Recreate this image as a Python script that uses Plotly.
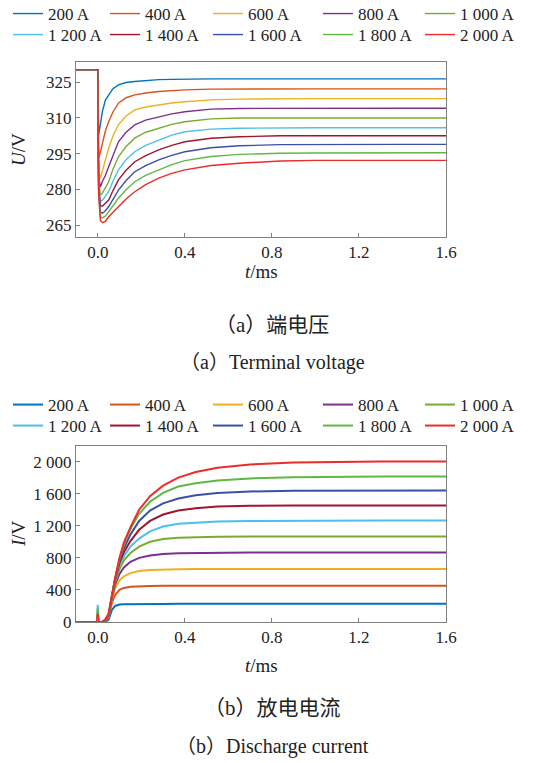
import plotly.graph_objects as go

# ---------------- data ----------------
series_names = ["200 A", "400 A", "600 A", "800 A", "1 000 A",
                "1 200 A", "1 400 A", "1 600 A", "1 800 A", "2 000 A"]
colors = ["#0072BD", "#D95319", "#EDB120", "#7E2F8E", "#77AC30",
          "#4DBEEE", "#A2142F", "#3A4FA8", "#5DB845", "#EE2A2A"]

# terminal voltage (V) vs time (ms)
t_u = [-0.1, 0.0, 0.004, 0.012, 0.022, 0.035, 0.05, 0.07, 0.095, 0.13, 0.17,
       0.22, 0.28, 0.34, 0.4, 0.52, 0.65, 0.84, 1.0, 1.2, 1.4, 1.6]
u_200 = [330.3, 330.3, 302.9, 308.0, 313.0, 317.5, 319.8, 322.3, 323.9, 324.9, 325.3,
         325.8, 326.1, 326.2, 326.3, 326.4, 326.4, 326.4, 326.4, 326.4, 326.4, 326.4]
u_400 = [330.3, 330.3, 293.3, 295.5, 299.5, 304.5, 308.4, 312.5, 316.2, 318.5, 319.7,
         320.5, 321.1, 321.5, 321.8, 322.1, 322.2, 322.2, 322.2, 322.2, 322.2, 322.2]
u_600 = [330.3, 330.3, 288.0, 284.7, 288.0, 292.5, 297.3, 302.5, 307.1, 310.8, 313.4,
         314.6, 315.5, 316.3, 316.8, 317.6, 317.9, 318.1, 318.1, 318.1, 318.1, 318.1]
u_800 = [330.3, 330.3, 285.0, 281.0, 283.5, 285.8, 289.5, 294.5, 300.0, 304.0, 307.1,
         309.1, 310.5, 311.7, 312.6, 313.7, 314.0, 314.1, 314.1, 314.1, 314.1, 314.1]
u_1000 = [330.3, 330.3, 283.0, 277.5, 278.5, 281.0, 283.2, 288.5, 293.7, 298.0, 301.5,
          304.0, 305.7, 307.3, 308.4, 309.6, 310.0, 310.0, 310.0, 310.0, 310.0, 310.0]
u_1200 = [330.3, 330.3, 282.0, 275.0, 275.5, 277.0, 279.0, 283.5, 288.2, 292.5, 295.8,
          298.5, 300.8, 302.8, 304.2, 305.3, 305.7, 305.9, 305.9, 305.9, 305.9, 305.9]
u_1400 = [330.3, 330.3, 281.0, 273.0, 273.0, 274.0, 275.5, 279.5, 284.0, 288.0, 291.6,
          294.2, 296.6, 298.5, 300.0, 301.5, 302.1, 302.5, 302.5, 302.5, 302.5, 302.5]
u_1600 = [330.3, 330.3, 280.0, 270.5, 270.0, 271.0, 272.7, 276.0, 279.7, 283.7, 287.4,
          290.0, 292.4, 294.3, 295.8, 297.5, 298.3, 298.8, 298.9, 298.9, 298.9, 298.9]
u_1800 = [330.3, 330.3, 279.0, 268.5, 268.0, 268.8, 270.6, 273.3, 276.3, 279.8, 283.2,
          285.9, 288.2, 290.4, 292.1, 293.8, 294.7, 295.2, 295.3, 295.4, 295.4, 295.4]
u_2000 = [330.3, 330.3, 278.0, 267.0, 266.0, 266.5, 268.5, 270.5, 272.7, 276.0, 279.0,
          282.0, 284.7, 286.7, 288.2, 290.0, 291.0, 291.9, 292.2, 292.2, 292.2, 292.2]
voltages = [u_200, u_400, u_600, u_800, u_1000, u_1200, u_1400, u_1600, u_1800, u_2000]

# discharge current (A) vs time (ms)
t_i = [-0.1, -0.004, 0.0, 0.004, 0.02, 0.035, 0.05, 0.065, 0.08, 0.1, 0.12, 0.15,
       0.19, 0.24, 0.3, 0.37, 0.45, 0.55, 0.7, 0.9, 1.1, 1.3, 1.6]
i_200 = [0, 0, 0, 0, 0, 0, 30, 150, 200, 218, 222, 224,
         225, 226, 226, 227, 227, 228, 228, 228, 228, 228, 228]
i_400 = [0, 0, 0, 0, 0, 10, 60, 240, 340, 400, 425, 440,
         447, 450, 452, 453, 453, 453, 453, 453, 453, 453, 453]
i_600 = [0, 0, 0, 0, 0, 15, 70, 280, 420, 520, 570, 610,
         635, 648, 655, 658, 660, 661, 661, 661, 661, 661, 661]
i_800 = [0, 0, 0, 0, 0, 20, 80, 300, 470, 600, 680, 750,
         800, 830, 848, 858, 862, 865, 867, 868, 868, 868, 868]
i_1000 = [0, 0, 0, 0, 0, 20, 85, 310, 500, 660, 770, 860,
          940, 1000, 1035, 1050, 1058, 1062, 1065, 1067, 1067, 1067, 1067]
i_1200 = [0, 0, 215, 0, 0, 25, 90, 315, 520, 710, 820, 940,
          1040, 1130, 1190, 1225, 1240, 1252, 1260, 1265, 1267, 1267, 1267]
i_1400 = [0, 0, 0, 0, 0, 25, 90, 320, 530, 740, 870, 1010,
          1150, 1260, 1340, 1390, 1420, 1440, 1450, 1453, 1454, 1454, 1454]
i_1600 = [0, 0, 0, 0, 0, 25, 95, 325, 540, 770, 920, 1090,
          1260, 1390, 1480, 1540, 1580, 1610, 1628, 1638, 1640, 1641, 1641]
i_1800 = [0, 0, 170, 0, 0, 30, 100, 330, 545, 790, 960, 1160,
          1350, 1500, 1610, 1690, 1730, 1765, 1790, 1805, 1812, 1815, 1815]
i_2000 = [0, 0, 100, 0, 0, 30, 100, 330, 550, 800, 990, 1180,
          1400, 1570, 1700, 1800, 1870, 1925, 1965, 1990, 2000, 2002, 2002]
currents = [i_200, i_400, i_600, i_800, i_1000, i_1200, i_1400, i_1600, i_1800, i_2000]

x_ticks = [0.0, 0.4, 0.8, 1.2, 1.6]
x_ticktext = ["0.0", "0.4", "0.8", "1.2", "1.6"]
u_ticks = [265, 280, 295, 310, 325]
u_ticktext = ["265", "280", "295", "310", "325"]
i_ticks = [0, 400, 800, 1200, 1600, 2000]
i_ticktext = ["0", "400", "800", "1 200", "1 600", "2 000"]

# ---------------- figure ----------------
FONT = "'Liberation Serif', 'Times New Roman', serif"
CJK_FONT = "'Liberation Serif', 'Noto Sans CJK SC', serif"
W, H = 545, 763
L, R, T, B = 76, 99, 62, 141
PW = W - L - R          # 370
PH = H - T - B          # 560

def px(pix):
    return (pix - L) / PW

def py(pix):
    return (H - B - pix) / PH

def legend_name(panel, n):
    k = panel * 10 + n + 1
    return "legend" if k == 1 else f"legend{k}"

fig = go.Figure()
for n, (name, col, u) in enumerate(zip(series_names, colors, voltages)):
    fig.add_trace(go.Scatter(x=t_u, y=u, mode="lines", name=name,
                             line=dict(color=col, width=1.4),
                             xaxis="x", yaxis="y", legend=legend_name(0, n)))
for n, (name, col, i) in enumerate(zip(series_names, colors, currents)):
    fig.add_trace(go.Scatter(x=t_i, y=i, mode="lines", name=name,
                             line=dict(color=col, width=2),
                             xaxis="x2", yaxis="y2", legend=legend_name(1, n)))

axis_common = dict(showline=True, linecolor="#808080", linewidth=1, mirror=True,
                   ticks="inside", ticklen=4, tickcolor="#808080",
                   showgrid=False, zeroline=False,
                   tickfont=dict(family=FONT, size=17, color="#222"))

legend_common = dict(orientation="v", xref="paper", yref="paper",
                     xanchor="left", yanchor="top",
                     font=dict(family=FONT, size=17, color="#222"),
                     itemwidth=30, tracegroupgap=0, borderwidth=0,
                     bgcolor="rgba(0,0,0,0)", itemclick=False, itemdoubleclick=False)

col_text_x = [48, 145, 248, 358, 460]            # pixel x where legend text starts
row_center_y = [[15, 36], [406, 427]]            # pixel y of legend rows per panel

layout_legends = {}
for p in range(2):
    for n in range(10):
        r, c = divmod(n, 5)
        layout_legends[legend_name(p, n)] = dict(
            x=px(col_text_x[c] - 40), y=py(row_center_y[p][r] - 19), **legend_common)

fig.update_layout(
    width=W, height=H,
    margin=dict(l=L, r=R, t=T, b=B, autoexpand=False),
    paper_bgcolor="white", plot_bgcolor="white",
    font=dict(family=FONT, size=15, color="#222"),
    xaxis=dict(domain=[0, 1], range=[-0.1, 1.6], tickvals=x_ticks, ticktext=x_ticktext,
               anchor="y", **axis_common),
    yaxis=dict(domain=[py(237), 1.0], range=[260, 333.5], tickvals=u_ticks,
               ticktext=u_ticktext, anchor="x", **axis_common),
    xaxis2=dict(domain=[0, 1], range=[-0.1, 1.6], tickvals=x_ticks, ticktext=x_ticktext,
                anchor="y2", **axis_common),
    yaxis2=dict(domain=[0, py(446)], range=[0, 2195], tickvals=i_ticks,
                ticktext=i_ticktext, anchor="x2", **axis_common),
    showlegend=True,
    **layout_legends,
)

def ann(text, xpix, ypix, size=15, angle=0, family=FONT):
    fig.add_annotation(text=text, xref="paper", yref="paper",
                       x=px(xpix), y=py(ypix), showarrow=False,
                       xanchor="center", yanchor="middle", textangle=angle,
                       font=dict(family=family, size=size, color="#222"))

ann("<i>U</i>/V", 18, 150, 19, -90)
ann("<i>t</i>/ms", 261, 271, 19)
ann("（a）端电压", 272, 325, 21, family=CJK_FONT)
ann("（a）Terminal voltage", 272, 362, 20, family=CJK_FONT)
ann("<i>I</i>/V", 18, 534, 19, -90)
ann("<i>t</i>/ms", 261, 665, 19)
ann("（b）放电电流", 272, 708, 21, family=CJK_FONT)
ann("（b）Discharge current", 272, 746, 20, family=CJK_FONT)

fig.write_html("out.html", config={"displayModeBar": False},
               post_script="document.body.style.margin='0px';")
